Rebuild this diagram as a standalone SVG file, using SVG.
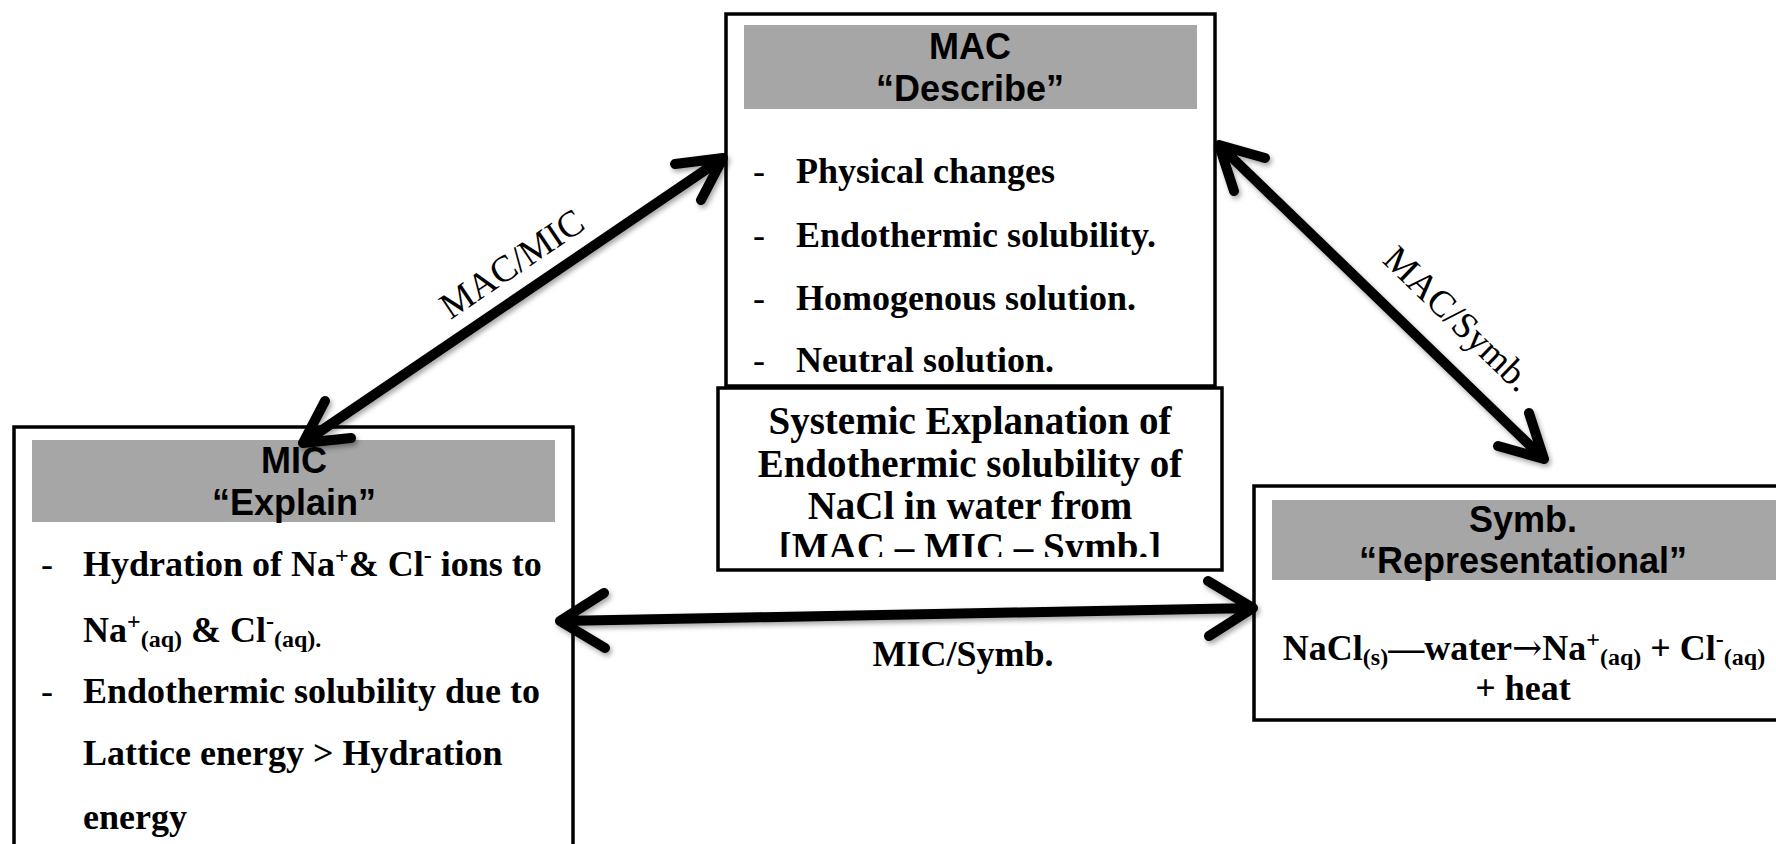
<svg xmlns="http://www.w3.org/2000/svg" width="1776" height="844" viewBox="0 0 1776 844">
  <style>
    .box { fill: #fff; stroke: #000; stroke-width: 3.5; }
    .hdr { fill: #a6a6a6; }
    .htxt { font-family: "Liberation Sans", Arial, sans-serif; font-weight: bold; font-size: 36px; fill: #000; text-anchor: middle; }
    .btxt { font-family: "Liberation Serif", "Times New Roman", serif; font-weight: bold; font-size: 36px; fill: #000; }
    .dash { font-family: "Liberation Serif", "Times New Roman", serif; font-size: 36px; fill: #000; }
    .mid { text-anchor: middle; }
    .sys { font-family: "Liberation Serif", "Times New Roman", serif; font-weight: bold; font-size: 39px; fill: #000; text-anchor: middle; }
    .lbl { font-family: "Liberation Serif", "Times New Roman", serif; font-size: 37px; fill: #000; text-anchor: middle; }
    .lblb { font-weight: bold; font-size: 36px; }
    .s { font-size: 24px; }
    .arw { font-family: "DejaVu Serif", serif; font-weight: normal; }
    .arrow { fill: none; stroke: #000; stroke-width: 10; stroke-linecap: round; stroke-linejoin: round; }
  </style>
  <defs>
    <filter id="shadow" x="-10%" y="-10%" width="120%" height="120%">
      <feDropShadow dx="2" dy="3" stdDeviation="2.5" flood-color="#000" flood-opacity="0.35"/>
    </filter>
    <clipPath id="sysClip">
      <rect x="718" y="386" width="504" height="171"/>
    </clipPath>
  </defs>

  <rect width="1776" height="844" fill="#fff"/>

  <!-- Macroscopic level -->
  <g id="mac">
    <rect class="box" x="726" y="14" width="489" height="372"/>
    <rect class="hdr" x="744" y="25" width="453" height="84"/>
    <text class="htxt" x="970" y="59">MAC</text>
    <text class="htxt" x="970" y="101">“Describe”</text>
    <text class="dash" x="753" y="183">-</text>
    <text class="btxt" x="796" y="183">Physical changes</text>
    <text class="dash" x="753" y="247">-</text>
    <text class="btxt" x="796" y="247">Endothermic solubility.</text>
    <text class="dash" x="753" y="310">-</text>
    <text class="btxt" x="796" y="310">Homogenous solution.</text>
    <text class="dash" x="753" y="372">-</text>
    <text class="btxt" x="796" y="372">Neutral solution.</text>
  </g>

  <!-- Central summary box -->
  <g id="systemic">
    <rect class="box" x="718" y="388" width="504" height="182"/>
    <g clip-path="url(#sysClip)">
      <text class="sys" x="970" y="434">Systemic Explanation of</text>
      <text class="sys" x="970" y="477">Endothermic solubility of</text>
      <text class="sys" x="970" y="519">NaCl in water from</text>
      <text class="sys" x="970" y="560">[MAC – MIC – Symb.]</text>
    </g>
  </g>

  <!-- Microscopic level -->
  <g id="mic">
    <rect class="box" x="14" y="427" width="559" height="440"/>
    <rect class="hdr" x="32" y="440" width="523" height="82"/>
    <text class="htxt" x="294" y="473">MIC</text>
    <text class="htxt" x="294" y="515">“Explain”</text>
    <text class="dash" x="41" y="576">-</text>
    <text class="btxt" x="83" y="576">Hydration of Na<tspan class="s" dy="-13">+</tspan><tspan dy="13">&amp; Cl</tspan><tspan class="s" dy="-13">-</tspan><tspan dy="13"> ions to</tspan></text>
    <text class="btxt" x="83" y="642">Na<tspan class="s" dy="-13">+</tspan><tspan class="s" dy="18">(aq)</tspan><tspan dy="-5"> &amp; Cl</tspan><tspan class="s" dy="-13">-</tspan><tspan class="s" dy="18">(aq).</tspan></text>
    <text class="dash" x="41" y="703">-</text>
    <text class="btxt" x="83" y="703">Endothermic solubility due to</text>
    <text class="btxt" x="83" y="765">Lattice energy &gt; Hydration</text>
    <text class="btxt" x="83" y="829">energy</text>
  </g>

  <!-- Symbolic level -->
  <g id="symb">
    <rect class="box" x="1254" y="486" width="560" height="234"/>
    <rect class="hdr" x="1272" y="500" width="520" height="80"/>
    <text class="htxt" x="1523" y="532">Symb.</text>
    <text class="htxt" x="1523" y="573">“Representational”</text>
    <text class="btxt mid" x="1524" y="660">NaCl<tspan class="s" dy="5">(s)</tspan><tspan dy="-5">—water</tspan><tspan class="arw">→</tspan><tspan>Na</tspan><tspan class="s" dy="-13">+</tspan><tspan class="s" dy="18">(aq)</tspan><tspan dy="-5"> + Cl</tspan><tspan class="s" dy="-13">-</tspan><tspan class="s" dy="18">(aq)</tspan></text>
    <text class="btxt mid" x="1523" y="700">+ heat</text>
  </g>

  <!-- Two-headed connectors between the levels -->
  <g id="connectors">
    <g filter="url(#shadow)">
      <path class="arrow" d="M723,158 L303,443 M675,164 L723,158 L701,200 M351,438 L303,443 L325,401"/>
      <path class="arrow" d="M1219,145 L1544,459 M1234,191 L1219,145 L1265,158 M1529,413 L1544,459 L1498,446"/>
      <path class="arrow" d="M560,621 L1253,608 M1208,581 L1253,608 L1209,636 M605,648 L560,621 L604,593"/>
    </g>
    <text class="lbl" transform="translate(512,264) rotate(-34)" x="0" y="12">MAC/MIC</text>
    <text class="lbl" transform="translate(1458,319) rotate(44)" x="0" y="12">MAC/Symb.</text>
    <text class="lbl lblb" x="963" y="666">MIC/Symb.</text>
  </g>
</svg>
